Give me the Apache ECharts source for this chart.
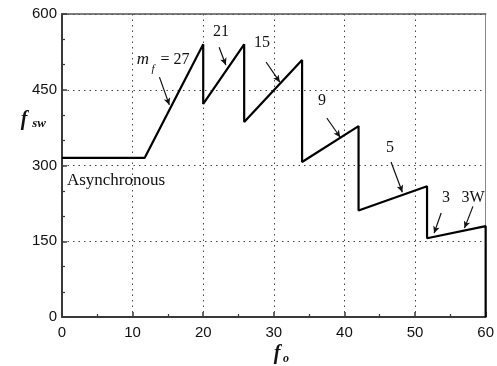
<!DOCTYPE html>
<html>
<head>
<meta charset="utf-8">
<script src="https://cdn.jsdelivr.net/npm/echarts@6/dist/echarts.min.js"></script>
<style>html,body{margin:0;padding:0;background:#fff}#c{width:497px;height:366px}</style>
</head>
<body>
<div id="c"></div>
<script>
// data
const fo = [0, 11.7, 20, 20, 25.8, 25.8, 34, 34, 42, 42, 51.7, 51.7, 60, 60];
const fsw = [315, 315, 540, 422, 540, 386, 509, 307, 378, 211, 259, 156, 180, 0];
const xTicks = [0, 10, 20, 30, 40, 50, 60];
const yTicks = [0, 150, 300, 450, 600];
const annLabels = ['27', '21', '15', '9', '5', '3', '3W'];
const arrowFrom = [[13.8, 475], [22.25, 534], [28.9, 505], [37.5, 394], [46.6, 307], [53.7, 206], [58.2, 219]];
const arrowTo = [[15.2, 420], [23.2, 499], [30.85, 465], [39.4, 356], [48.2, 247], [52.7, 166], [57.0, 176]];

// layout (pixel positions of annotation texts)
const annPos = [null, [221, 32], [262, 43], [322, 101], [390, 148], [446, 198], [473, 198]];

const chart = echarts.init(document.getElementById('c'));
const serif = '"Liberation Serif", "Times New Roman", serif';
const sans = '"Liberation Sans", Arial, sans-serif';
const axisCol = '#3a3a3a';

const pts = fo.map((x, i) => [x, fsw[i]]);
const arrows = arrowFrom.map((a, i) => [
  { coord: a, symbol: 'none' },
  { coord: arrowTo[i], symbol: 'arrow' }
]);

const graphics = [];
function txt(x, y, text, size, opts) {
  graphics.push(Object.assign({
    type: 'text', z: 100,
    style: Object.assign({ x: x, y: y, text: text, fill: '#111',
      font: (opts && opts.font) || (size + 'px ' + serif),
      textAlign: 'center', textVerticalAlign: 'middle' }, (opts && opts.style) || {})
  }));
}
annLabels.forEach((t, i) => { if (annPos[i]) txt(annPos[i][0], annPos[i][1], t, 16); });
// m_f = 27
txt(143, 60, 'm', 17, { font: 'italic 17px ' + serif });
txt(153, 69, 'f', 11, { font: 'italic 11px ' + serif });
txt(175, 60, '= 27', 16);
txt(116, 181, 'Asynchronous', 17);
// axis titles
txt(24, 120, 'f', 19, { font: 'italic bold 20px ' + serif });
txt(39, 124, 'sw', 13, { font: 'italic bold 13px ' + serif });
txt(277, 354, 'f', 19, { font: 'italic bold 20px ' + serif });
txt(286, 359, 'o', 12, { font: 'italic bold 12px ' + serif });

chart.setOption({
  animation: false,
  backgroundColor: '#fff',
  grid: { left: 62, right: 9, top: 14, bottom: 49 },
  xAxis: [{
    type: 'value', min: 0, max: 60, interval: 10,
    axisLine: { show: true, onZero: false, lineStyle: { color: axisCol, width: 2 } },
    axisTick: { show: true, inside: true, length: 5, lineStyle: { color: axisCol, width: 1.5 } },
    minorTick: { show: true, splitNumber: 2, length: 3, lineStyle: { color: axisCol, width: 1.2 } },
    splitLine: { show: true, lineStyle: { color: '#444', type: [1.5, 4], width: 1 } },
    axisLabel: { color: '#111', fontFamily: sans, fontSize: 15, margin: 8,
      formatter: v => xTicks.includes(v) ? String(v) : '' }
  }, {
    type: 'value', min: 0, max: 60, position: 'top',
    axisLine: { show: true, onZero: false, lineStyle: { color: '#555', width: 1.5 } },
    axisTick: { show: false }, axisLabel: { show: false }, splitLine: { show: false }
  }],
  yAxis: [{
    type: 'value', min: 0, max: 600, interval: 150,
    axisLine: { show: true, onZero: false, lineStyle: { color: axisCol, width: 2 } },
    axisTick: { show: true, inside: true, length: 5, lineStyle: { color: axisCol, width: 1.5 } },
    minorTick: { show: true, splitNumber: 3, length: 3, lineStyle: { color: axisCol, width: 1.2 } },
    splitLine: { show: true, lineStyle: { color: '#444', type: [1.5, 4], width: 1 } },
    axisLabel: { color: '#111', fontFamily: sans, fontSize: 15, margin: 5,
      formatter: v => yTicks.includes(v) ? String(v) : '' }
  }, {
    type: 'value', min: 0, max: 600, position: 'right',
    axisLine: { show: true, onZero: false, lineStyle: { color: '#888', width: 1 } },
    axisTick: { show: false }, axisLabel: { show: false }, splitLine: { show: false }
  }],
  series: [{
    type: 'line', data: pts, showSymbol: false, symbol: 'none',
    lineStyle: { color: '#000', width: 2.2 }, z: 10,
    markLine: {
      silent: true, animation: false,
      symbolSize: [5, 7],
      label: { show: false },
      lineStyle: { color: '#111', width: 1.2, type: 'solid' },
      data: arrows
    }
  }],
  graphic: graphics
});
</script>
</body>
</html>
